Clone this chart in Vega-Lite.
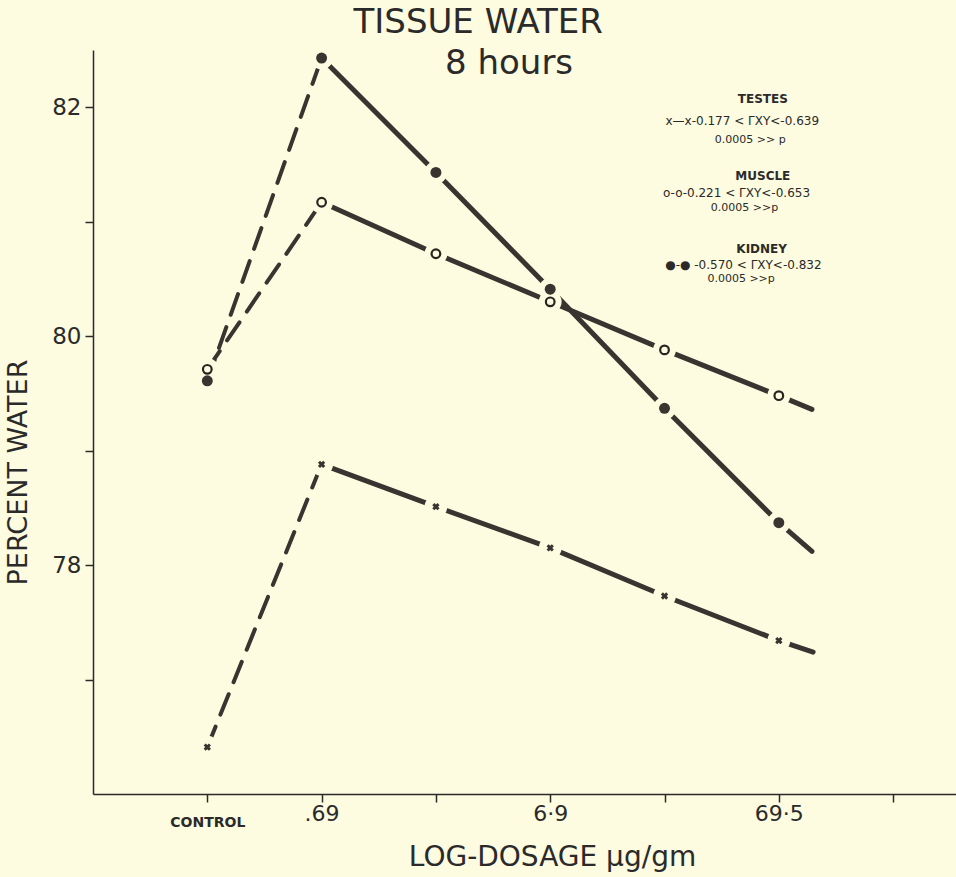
{
  "$schema": "https://vega.github.io/schema/vega-lite/v6.json",
  "width": 863,
  "height": 744,
  "autosize": {"type": "none"},
  "padding": {"left": 93, "top": 50, "right": 0, "bottom": 83},
  "background": "#fdfbe0",
  "config": {"view": {"stroke": null}, "font": "DejaVu Sans"},
  "datasets": {
    "series": [
      {"tissue": "Kidney", "x": 1, "y": 79.61, "kind": "obs"},
      {"tissue": "Kidney", "x": 2, "y": 82.43, "kind": "obs"},
      {"tissue": "Kidney", "x": 3, "y": 81.43, "kind": "obs"},
      {"tissue": "Kidney", "x": 4, "y": 80.41, "kind": "obs"},
      {"tissue": "Kidney", "x": 5, "y": 79.37, "kind": "obs"},
      {"tissue": "Kidney", "x": 6, "y": 78.37, "kind": "obs"},
      {"tissue": "Kidney", "x": 6.29, "y": 78.12, "kind": "end"},
      {"tissue": "Muscle", "x": 1, "y": 79.71, "kind": "obs"},
      {"tissue": "Muscle", "x": 2, "y": 81.17, "kind": "obs"},
      {"tissue": "Muscle", "x": 3, "y": 80.72, "kind": "obs"},
      {"tissue": "Muscle", "x": 4, "y": 80.30, "kind": "obs"},
      {"tissue": "Muscle", "x": 5, "y": 79.88, "kind": "obs"},
      {"tissue": "Muscle", "x": 6, "y": 79.48, "kind": "obs"},
      {"tissue": "Muscle", "x": 6.29, "y": 79.36, "kind": "end"},
      {"tissue": "Testes", "x": 1, "y": 76.41, "kind": "obs"},
      {"tissue": "Testes", "x": 2, "y": 78.88, "kind": "obs"},
      {"tissue": "Testes", "x": 3, "y": 78.51, "kind": "obs"},
      {"tissue": "Testes", "x": 4, "y": 78.15, "kind": "obs"},
      {"tissue": "Testes", "x": 5, "y": 77.73, "kind": "obs"},
      {"tissue": "Testes", "x": 6, "y": 77.34, "kind": "obs"},
      {"tissue": "Testes", "x": 6.3, "y": 77.24, "kind": "end"}
    ],
    "headers": [
      {"x": 5.86, "y": 82.07, "text": "TESTES"},
      {"x": 5.86, "y": 81.40, "text": "MUSCLE"},
      {"x": 5.85, "y": 80.76, "text": "KIDNEY"}
    ],
    "stats": [
      {"x": 5.68, "y": 81.88, "text": "x—x-0.177 <  ΓXY<-0.639"},
      {"x": 5.63, "y": 81.25, "text": "o-o-0.221 <  ΓXY<-0.653"},
      {"x": 5.69, "y": 80.62, "text": "●-● -0.570 <  ΓXY<-0.832"}
    ],
    "pvalues": [
      {"x": 5.75, "y": 81.71, "text": "0.0005 >> p"},
      {"x": 5.70, "y": 81.12, "text": "0.0005 >>p"},
      {"x": 5.67, "y": 80.50, "text": "0.0005 >>p"}
    ],
    "heading": [
      {"x": 3.37, "y": 82.74, "text": "TISSUE WATER"},
      {"x": 3.64, "y": 82.38, "text": "8 hours"}
    ]
  },
  "encoding": {
    "x": {
      "field": "x",
      "type": "quantitative",
      "scale": {"domain": [0, 7.55], "nice": false, "zero": false},
      "axis": {
        "values": [1, 2, 3, 4, 5, 6, 7],
        "labelExpr": "datum.value == 1 ? 'CONTROL' : datum.value == 2 ? '.69' : datum.value == 4 ? '6·9' : datum.value == 6 ? '69·5' : ''",
        "labelFontSize": {"condition": {"test": "datum.value == 1", "value": 14}, "value": 22},
        "labelFontWeight": {"condition": {"test": "datum.value == 1", "value": "bold"}, "value": "normal"},
        "labelPadding": {"condition": {"test": "datum.value == 1", "value": 13}, "value": 1},
        "labelBaseline": "top",
        "labelFlush": false,
        "labelOverlap": false,
        "labelBound": false,
        "labelColor": "#2a2a2a",
        "grid": false,
        "tickSize": 8,
        "tickWidth": 1.5,
        "tickColor": "#2a2a2a",
        "domainColor": "#2a2a2a",
        "domainWidth": 1.5,
        "title": "LOG-DOSAGE  μg/gm",
        "titleFontSize": 28,
        "titleFontWeight": "normal",
        "titleColor": "#2a2a2a",
        "titleX": 459,
        "titleY": 63,
        "titleAlign": "center",
        "titleBaseline": "middle"
      }
    },
    "y": {
      "field": "y",
      "type": "quantitative",
      "scale": {"domain": [76, 82.5], "nice": false, "zero": false},
      "axis": {
        "values": [77, 78, 79, 80, 81, 82],
        "labelExpr": "datum.value % 2 == 0 ? datum.label : ''",
        "labelFontSize": 23,
        "labelPadding": 4,
        "labelColor": "#2a2a2a",
        "grid": false,
        "tickSize": 8,
        "tickWidth": 1.5,
        "tickColor": "#2a2a2a",
        "domainColor": "#2a2a2a",
        "domainWidth": 1.5,
        "title": "PERCENT WATER",
        "titleFontSize": 27,
        "titleFontWeight": "normal",
        "titleColor": "#2a2a2a",
        "titleAngle": 270,
        "titleX": -75,
        "titleY": 422,
        "titleAlign": "center",
        "titleBaseline": "middle"
      }
    }
  },
  "layer": [
    {
      "data": {"name": "series"},
      "transform": [{"filter": "datum.x <= 2"}],
      "mark": {"type": "line", "color": "#3a3430", "strokeWidth": 4, "strokeDash": [22, 13], "strokeCap": "round"},
      "encoding": {"detail": {"field": "tissue"}}
    },
    {
      "data": {"name": "series"},
      "transform": [{"filter": "datum.x >= 2"}],
      "mark": {"type": "line", "color": "#3a3430", "strokeWidth": 5, "strokeCap": "round"},
      "encoding": {"detail": {"field": "tissue"}}
    },
    {
      "data": {"name": "series"},
      "transform": [{"filter": "datum.kind == 'obs'"}],
      "mark": {"type": "point", "shape": "circle", "filled": true, "size": 520, "color": "#fdfbe0", "opacity": 1}
    },
    {
      "data": {"name": "series"},
      "transform": [{"filter": "datum.kind == 'obs' && datum.tissue == 'Kidney'"}],
      "mark": {"type": "point", "shape": "circle", "filled": true, "size": 120, "color": "#3a3430", "opacity": 1}
    },
    {
      "data": {"name": "series"},
      "transform": [{"filter": "datum.kind == 'obs' && datum.tissue == 'Muscle'"}],
      "mark": {"type": "point", "shape": "circle", "filled": false, "size": 75, "strokeWidth": 2.2, "color": "#2a2420", "opacity": 1}
    },
    {
      "data": {"name": "series"},
      "transform": [{"filter": "datum.kind == 'obs' && datum.tissue == 'Testes'"}],
      "mark": {"type": "point", "shape": "cross", "angle": 45, "filled": true, "size": 55, "color": "#3a3430", "opacity": 1}
    },
    {
      "data": {"name": "headers"},
      "mark": {"type": "text", "fontSize": 12, "fontWeight": "bold", "color": "#2a2a2a", "align": "center", "baseline": "middle"},
      "encoding": {"text": {"field": "text"}}
    },
    {
      "data": {"name": "stats"},
      "mark": {"type": "text", "fontSize": 12, "color": "#2a2a2a", "align": "center", "baseline": "middle"},
      "encoding": {"text": {"field": "text"}}
    },
    {
      "data": {"name": "pvalues"},
      "mark": {"type": "text", "fontSize": 11, "color": "#2a2a2a", "align": "center", "baseline": "middle"},
      "encoding": {"text": {"field": "text"}}
    },
    {
      "data": {"name": "heading"},
      "mark": {"type": "text", "fontSize": 34, "color": "#2a2a2a", "align": "center", "baseline": "middle"},
      "encoding": {"text": {"field": "text"}}
    }
  ]
}
